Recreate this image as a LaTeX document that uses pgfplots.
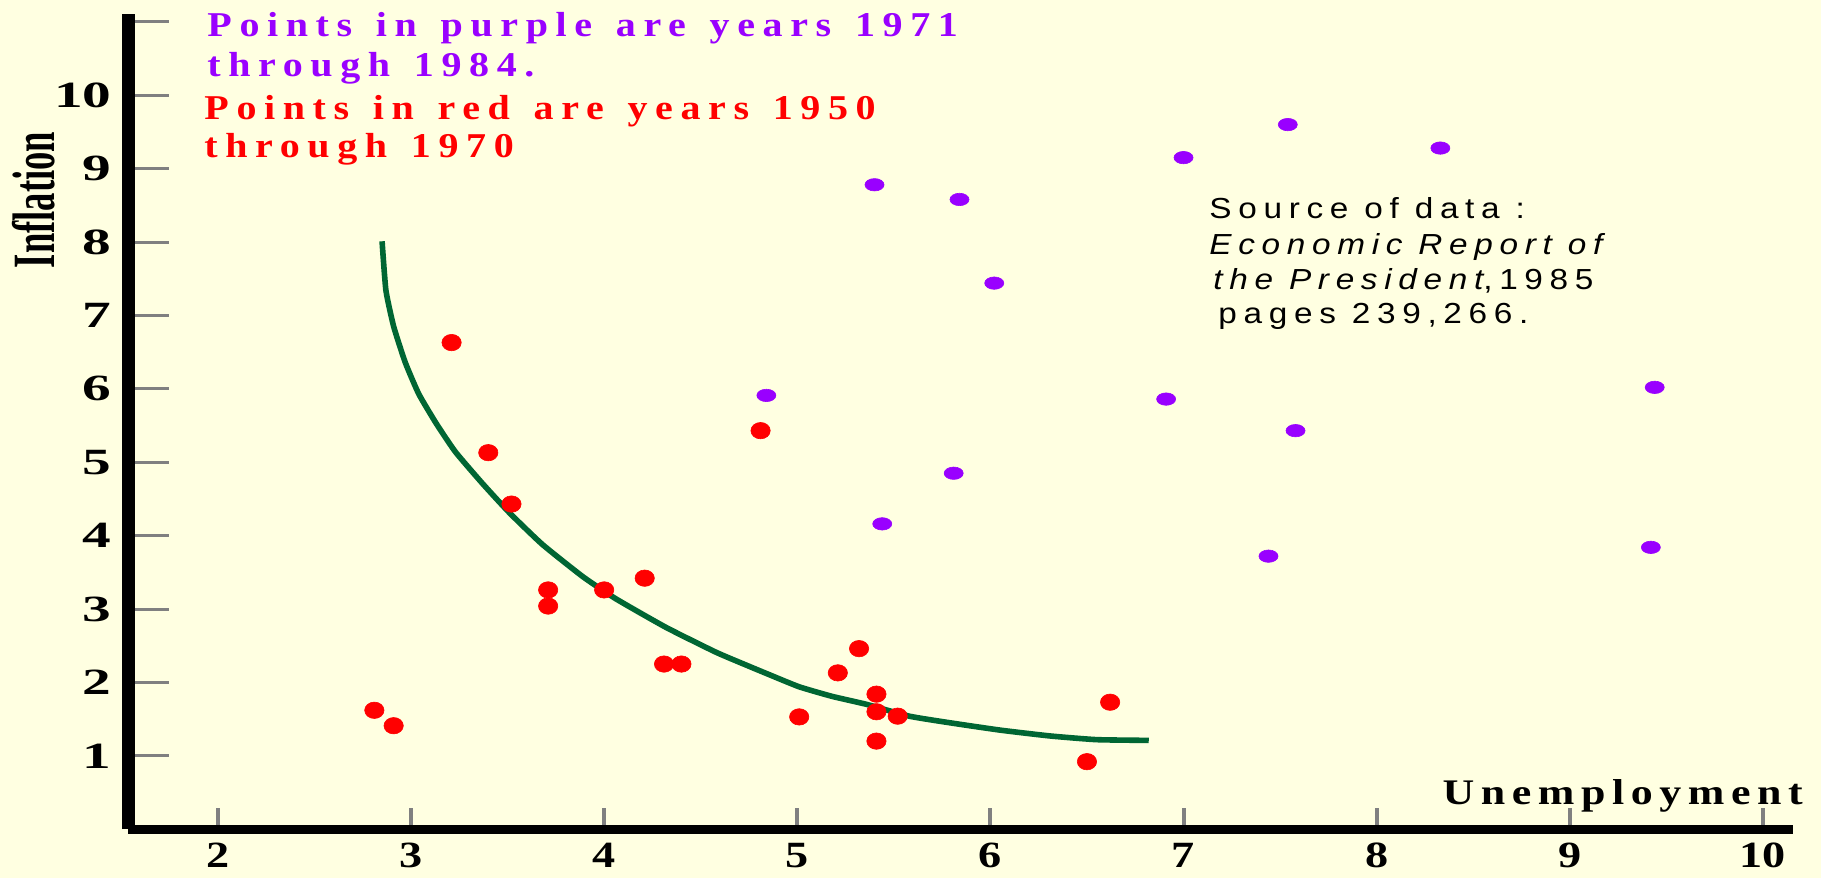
\documentclass[border=0pt]{standalone}
\usepackage{fontspec}
\setmainfont{Liberation Serif}
\newfontfamily\lsserif[LetterSpace=19,WordSpace=1.35]{Liberation Serif}
\newfontfamily\lsserifx[LetterSpace=15]{Liberation Serif}
\newfontfamily\srcfont[LetterSpace=20]{Liberation Sans}
\usepackage{pgfplots}
\pgfplotsset{compat=1.18}
\definecolor{bgyellow}{HTML}{FFFFE1}
\definecolor{ppurple}{HTML}{9900FF}
\definecolor{pred}{HTML}{FF0000}
\definecolor{pgreen}{HTML}{006633}
\begin{document}
\begin{tikzpicture}[x=1pt,y=1pt]
\useasboundingbox (0,0) rectangle (910.5,439);
\fill[bgyellow] (0,0) rectangle (910.5,439);
\begin{axis}[
  at={(64.25pt,24.4pt)}, anchor=south west,
  scale only axis, width=832.25pt, height=407.35pt,
  xmin=1.537, xmax=10.156, ymin=0, ymax=11.1,
  axis x line=bottom, axis y line=left,
  axis line style={-},
  x axis line style={line width=4.5pt},
  y axis line style={line width=6.5pt},
  xtick={2,...,10}, ytick={1,...,11},
  yticklabels={1,2,3,4,5,6,7,8,9,10,{}},
  xtick style={line width=2pt,/pgfplots/major tick length=10.5pt},
  ytick style={line width=1.5pt,/pgfplots/major tick length=20.5pt},
  tick align=inside,
  /pgf/number format/assume math mode=true,
  xticklabel style={font=\fontsize{18.5}{20}\selectfont\bfseries, anchor=north, inner sep=0pt, yshift=-6.75pt, xscale=1.25},
  yticklabel style={font=\fontsize{18.5}{20}\selectfont\bfseries, anchor=east, inner sep=0pt, xshift=-8.25pt, xscale=1.55},
  clip=false,
]
\addplot[pgreen, line width=2.8pt, smooth, tension=0.3] coordinates {
(2.85,8.01) (2.87,7.34) (2.91,6.85) (2.97,6.36) (3.04,5.93) (3.13,5.53)
(3.23,5.14) (3.37,4.71) (3.51,4.31) (3.68,3.88) (3.89,3.44) (4.06,3.14)
(4.32,2.75) (4.58,2.41) (4.75,2.22) (4.86,2.10) (5.01,1.94) (5.18,1.81)
(5.36,1.70) (5.58,1.54) (5.79,1.45) (6.05,1.35) (6.31,1.27) (6.55,1.22)
(6.82,1.21)
};
\addplot[only marks, color=pred, mark=*, mark size=4.1pt, mark options={draw=pred, fill=pred, line width=0.3pt, xscale=1.18}] coordinates {
(2.81,1.62) (2.91,1.41) (3.21,6.63) (3.40,5.13) (3.52,4.43) (3.71,3.26)
(3.71,3.04) (4.00,3.26) (4.21,3.42) (4.31,2.25) (4.40,2.25) (4.81,5.43)
(5.01,1.53) (5.21,2.13) (5.32,2.46) (5.41,1.84) (5.41,1.60) (5.41,1.20)
(5.52,1.54) (6.50,0.92) (6.62,1.73)
};
\addplot[only marks, color=ppurple, mark=*, mark size=3.1pt, mark options={draw=ppurple, fill=ppurple, line width=0.3pt, xscale=1.54}] coordinates {
(7.54,9.60) (8.33,9.28) (7.00,9.15) (5.40,8.78) (5.84,8.58) (6.02,7.44)
(4.84,5.91) (6.91,5.86) (9.44,6.02) (7.58,5.43) (5.81,4.85) (5.44,4.16)
(7.44,3.72) (9.42,3.84)
};
\end{axis}
% annotations
\node[anchor=base west, inner sep=0pt, xscale=1.15, text=ppurple, font=\lsserif\bfseries\fontsize{17.4}{20}\selectfont] at (103.5,420.5) {Points in purple are years 1971};
\node[anchor=base west, inner sep=0pt, xscale=1.15, text=ppurple, font=\lsserif\bfseries\fontsize{17.4}{20}\selectfont] at (103.5,400.5) {through 1984.};
\node[anchor=base west, inner sep=0pt, xscale=1.15, text=pred, font=\lsserif\bfseries\fontsize{17.4}{20}\selectfont] at (102,379) {Points in red are years 1950};
\node[anchor=base west, inner sep=0pt, xscale=1.15, text=pred, font=\lsserif\bfseries\fontsize{17.4}{20}\selectfont] at (102,360) {through 1970};
\node[anchor=base west, inner sep=0pt, xscale=1.15, font=\srcfont\fontsize{14.5}{17}\selectfont] at (604.5,329.5) {Source of data :};
\node[anchor=base west, inner sep=0pt, xscale=1.15, font=\srcfont\fontsize{14.5}{17}\selectfont] at (604.5,311.5) {\itshape Economic Report of};
\node[anchor=base west, inner sep=0pt, xscale=1.15, font=\srcfont\fontsize{14.5}{17}\selectfont] at (606.5,294) {\itshape the President\upshape,1985};
\node[anchor=base west, inner sep=0pt, xscale=1.15, font=\srcfont\fontsize{14.5}{17}\selectfont] at (609,277) {pages 239,266.};
\node[anchor=base west, inner sep=0pt, xscale=1.22, font=\lsserifx\bfseries\fontsize{18}{20}\selectfont] at (721,36.5) {Unemployment};
\node[inner sep=0pt, rotate=90, xscale=0.61, font=\bfseries\fontsize{30}{34}\selectfont] at (17,339) {Inflation};
\end{tikzpicture}
\end{document}
